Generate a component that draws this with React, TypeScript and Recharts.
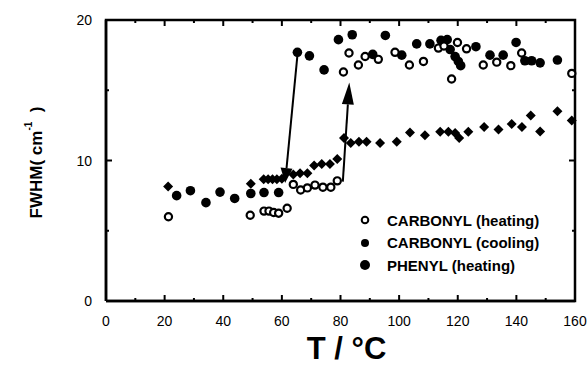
import { ScatterChart, Scatter, XAxis, YAxis, ReferenceLine, Legend } from 'recharts';

const FONT = '"Liberation Sans", Arial, Helvetica, sans-serif';

// CARBONYL (heating) - open circles
const heatingT = [21.3, 49.2, 53.9, 55.6, 57.2, 58.9, 61.8, 63.9, 66.4, 68.7, 71.3, 74.0, 76.7, 78.9, 81.0, 82.9, 86.1, 88.4, 92.9, 98.6, 103.5, 108.3, 113.4, 115.3, 117.9, 119.9, 123.0, 128.7, 133.3, 138.1, 141.8, 158.9];
const heatingF = [6.0, 6.1, 6.4, 6.4, 6.3, 6.25, 6.6, 8.3, 7.9, 8.05, 8.25, 8.1, 8.1, 8.55, 16.3, 17.65, 16.8, 17.4, 17.2, 17.7, 16.8, 17.05, 18.0, 18.15, 15.8, 18.4, 17.95, 16.8, 17.0, 16.75, 17.65, 16.2];

// CARBONYL (cooling) - filled circles
const coolingT = [24.1, 28.8, 34.1, 38.9, 43.9, 49.4, 53.9, 58.9, 65.3, 69.4, 74.4, 79.3, 84.0, 91.0, 95.3, 100.9, 106.0, 110.5, 114.3, 116.4, 117.4, 119.1, 120.2, 121.0, 126.2, 131.0, 135.5, 139.9, 142.9, 145.2, 148.1, 154.0];
const coolingF = [7.5, 7.85, 7.0, 7.75, 7.3, 7.65, 7.72, 7.72, 17.7, 17.45, 16.45, 18.6, 18.95, 17.55, 18.9, 17.5, 18.3, 18.3, 18.55, 18.6, 17.9, 17.4, 17.05, 16.75, 18.1, 17.5, 17.5, 18.4, 17.1, 17.1, 16.95, 17.15];

// PHENYL (heating) - diamonds
const phenylT = [21.2, 49.4, 53.8, 55.3, 56.8, 58.3, 60.0, 63.9, 66.2, 68.7, 71.0, 73.6, 76.4, 78.9, 81.2, 83.5, 86.3, 88.9, 93.5, 99.2, 103.7, 108.8, 114.0, 116.8, 119.1, 120.5, 123.6, 129.0, 133.9, 138.4, 141.9, 144.9, 148.1, 154.0, 158.9];
const phenylF = [8.15, 8.35, 8.67, 8.67, 8.67, 8.67, 8.7, 9.0, 9.1, 9.1, 9.65, 9.75, 9.75, 10.1, 11.6, 11.25, 11.33, 11.33, 11.25, 11.33, 12.0, 11.8, 12.05, 12.05, 11.95, 11.6, 12.05, 12.38, 12.2, 12.6, 12.38, 13.2, 12.07, 13.5, 12.85];

const xTicks = [0, 10, 20, 30, 40, 50, 60, 70, 80, 90, 100, 110, 120, 130, 140, 150, 160];
const yTicks = [0, 5, 10, 15, 20];

const legendLabels = ['CARBONYL (heating)', 'CARBONYL (cooling)', 'PHENYL (heating)'];

// transition arrows (data units)
const arrowCooling = [{ x: 65.4, y: 17.7 }, { x: 61.1, y: 8.39 }];
const arrowHeating = [{ x: 80.8, y: 8.5 }, { x: 83.0, y: 15.56 }];

// plot frame corners (data units), walked in order
const frameCorners = [{ x: 0, y: 0 }, { x: 160, y: 0 }, { x: 160, y: 20 }, { x: 0, y: 20 }, { x: 0, y: 0 }];

const toPoints = (xs: number[], ys: number[]) => xs.map((x, i) => ({ x, y: ys[i] }));
const heating = toPoints(heatingT, heatingF);
const cooling = toPoints(coolingT, coolingF);
const phenyl = toPoints(phenylT, phenylF);

const topTickPts = xTicks.map((x) => ({ x, y: 20, major: x % 20 === 0 }));
const rightTickPts = yTicks.map((y) => ({ x: 160, y, major: y % 10 === 0 }));

const OpenDot = (p: any) => <circle cx={p.cx} cy={p.cy} r={3.6} fill="#fff" stroke="#000" strokeWidth={2.2} />;
const FilledDot = (p: any) => <circle cx={p.cx} cy={p.cy} r={4.8} fill="#000" />;
const Diamond = (p: any) => {
  const s = 5;
  return <polygon points={`${p.cx},${p.cy - s} ${p.cx + s},${p.cy} ${p.cx},${p.cy + s} ${p.cx - s},${p.cy}`} fill="#000" />;
};
const NoDot = () => <g />;

const TopTickMark = (p: any) => {
  const len = p.payload && p.payload.major ? 6 : 3;
  return <path d={`M${p.cx},${p.cy} L${p.cx},${p.cy + len}`} stroke="#000" strokeWidth={2} fill="none" />;
};
const RightTickMark = (p: any) => {
  const len = p.payload && p.payload.major ? 6 : 3;
  return <path d={`M${p.cx},${p.cy} L${p.cx - len},${p.cy}`} stroke="#000" strokeWidth={2} fill="none" />;
};

const BottomTick = (p: any) => {
  const major = p.payload.value % 20 === 0;
  return (
    <g>
      <path d={`M${p.x},${p.y} L${p.x},${p.y - (major ? 6 : 3)}`} stroke="#000" strokeWidth={2} fill="none" />
      {major && (
        <text x={p.x} y={p.y + 25} textAnchor="middle" fontSize={14} fontFamily={FONT} fill="#000">
          {p.payload.value}
        </text>
      )}
    </g>
  );
};

const LeftTick = (p: any) => {
  const major = p.payload.value % 10 === 0;
  return (
    <g>
      <path d={`M${p.x},${p.y} L${p.x + (major ? 6 : 3)},${p.y}`} stroke="#000" strokeWidth={2} fill="none" />
      {major && (
        <text x={p.x - 14} y={p.y + 5} textAnchor="end" fontSize={14} fontFamily={FONT} fill="#000">
          {p.payload.value}
        </text>
      )}
    </g>
  );
};

const XTitle = (p: any) => {
  const vb = p.viewBox || { x: 106, y: 301, width: 469, height: 64 };
  return (
    <text x={vb.x + vb.width / 2 + 6} y={vb.y + 58} textAnchor="middle" fontSize={31} fontWeight="bold" fontFamily={FONT} fill="#000">
      T / °C
    </text>
  );
};

const YTitle = (p: any) => {
  const vb = p.viewBox || { x: 0, y: 20, width: 106, height: 281 };
  const cx = vb.x + 36;
  const cy = vb.y + vb.height / 2 + 2;
  return (
    <text
      x={cx}
      y={cy}
      transform={`rotate(-90, ${cx}, ${cy})`}
      textAnchor="middle"
      dominantBaseline="central"
      fontSize={17}
      fontWeight="bold"
      fontFamily={FONT}
      fill="#000"
      style={{ whiteSpace: 'pre' }}
    >
      {'FWHM( cm'}
      <tspan dy={-8} fontSize={10}>-1</tspan>
      <tspan dy={8}>{'  )'}</tspan>
    </text>
  );
};

const Arrow = (p: any) => {
  const { x1, y1, x2, y2, head } = p;
  const dx = x2 - x1;
  const dy = y2 - y1;
  const len = Math.hypot(dx, dy) || 1;
  const ux = dx / len;
  const uy = dy / len;
  const bx = x2 - ux * head;
  const by = y2 - uy * head;
  const w = 6;
  return (
    <g>
      <line x1={x1} y1={y1} x2={bx} y2={by} stroke="#000" strokeWidth={2} />
      <polygon points={`${x2},${y2} ${bx - uy * w},${by + ux * w} ${bx + uy * w},${by - ux * w}`} fill="#000" />
    </g>
  );
};

const LegendBox = () => {
  const markers = [
    <circle cx={10} cy={10} r={3.3} fill="#fff" stroke="#000" strokeWidth={2} />,
    <circle cx={10} cy={10} r={4} fill="#000" />,
    <circle cx={10} cy={10} r={5} fill="#000" />,
  ];
  return (
    <div style={{ fontFamily: FONT, fontWeight: 'bold', fontSize: 15, color: '#000' }}>
      {legendLabels.map((label, i) => (
        <div key={label} style={{ display: 'flex', alignItems: 'center', height: 22.5 }}>
          <svg width={20} height={20}>{markers[i]}</svg>
          <span style={{ marginLeft: 12, whiteSpace: 'nowrap' }}>{label}</span>
        </div>
      ))}
    </div>
  );
};

export default function App() {
  const axisLine = { stroke: '#000', strokeWidth: 2.5 };
  return (
    <div style={{ position: 'absolute', left: 0, top: 0, width: 587, height: 365, background: '#fff' }}>
      <ScatterChart width={587} height={365} margin={{ top: 20, right: 12, bottom: 0, left: 0 }}>
        <XAxis dataKey="x" type="number" domain={[0, 160]} ticks={xTicks} interval={0} height={64}
          tickSize={0} tickMargin={0} tickLine={false} axisLine={axisLine} tick={<BottomTick />} label={<XTitle />} />
        <YAxis dataKey="y" type="number" domain={[0, 20]} ticks={yTicks} interval={0} width={106}
          tickSize={0} tickMargin={0} tickLine={false} axisLine={axisLine} tick={<LeftTick />} label={<YTitle />} />
        <Legend layout="vertical" align="center" verticalAlign="middle" content={<LegendBox />}
          wrapperStyle={{ position: 'absolute', left: 355, top: 209, width: 'auto' }} />
        {/* plot frame (top/right edges) and their inward ticks */}
        <Scatter data={frameCorners} line={{ stroke: '#000', strokeWidth: 2.5 }} lineType="joint" shape={NoDot}
          legendType="none" isAnimationActive={false} />
        <Scatter data={topTickPts} shape={TopTickMark} legendType="none" isAnimationActive={false} />
        <Scatter data={rightTickPts} shape={RightTickMark} legendType="none" isAnimationActive={false} />
        <ReferenceLine segment={arrowCooling} shape={(p: any) => <Arrow {...p} head={15} />} />
        <ReferenceLine segment={arrowHeating} shape={(p: any) => <Arrow {...p} head={22} />} />
        <Scatter name="PHENYL (heating)" data={phenyl} shape={Diamond} isAnimationActive={false} />
        <Scatter name="CARBONYL (cooling)" data={cooling} shape={FilledDot} isAnimationActive={false} />
        <Scatter name="CARBONYL (heating)" data={heating} shape={OpenDot} isAnimationActive={false} />
      </ScatterChart>
    </div>
  );
}
